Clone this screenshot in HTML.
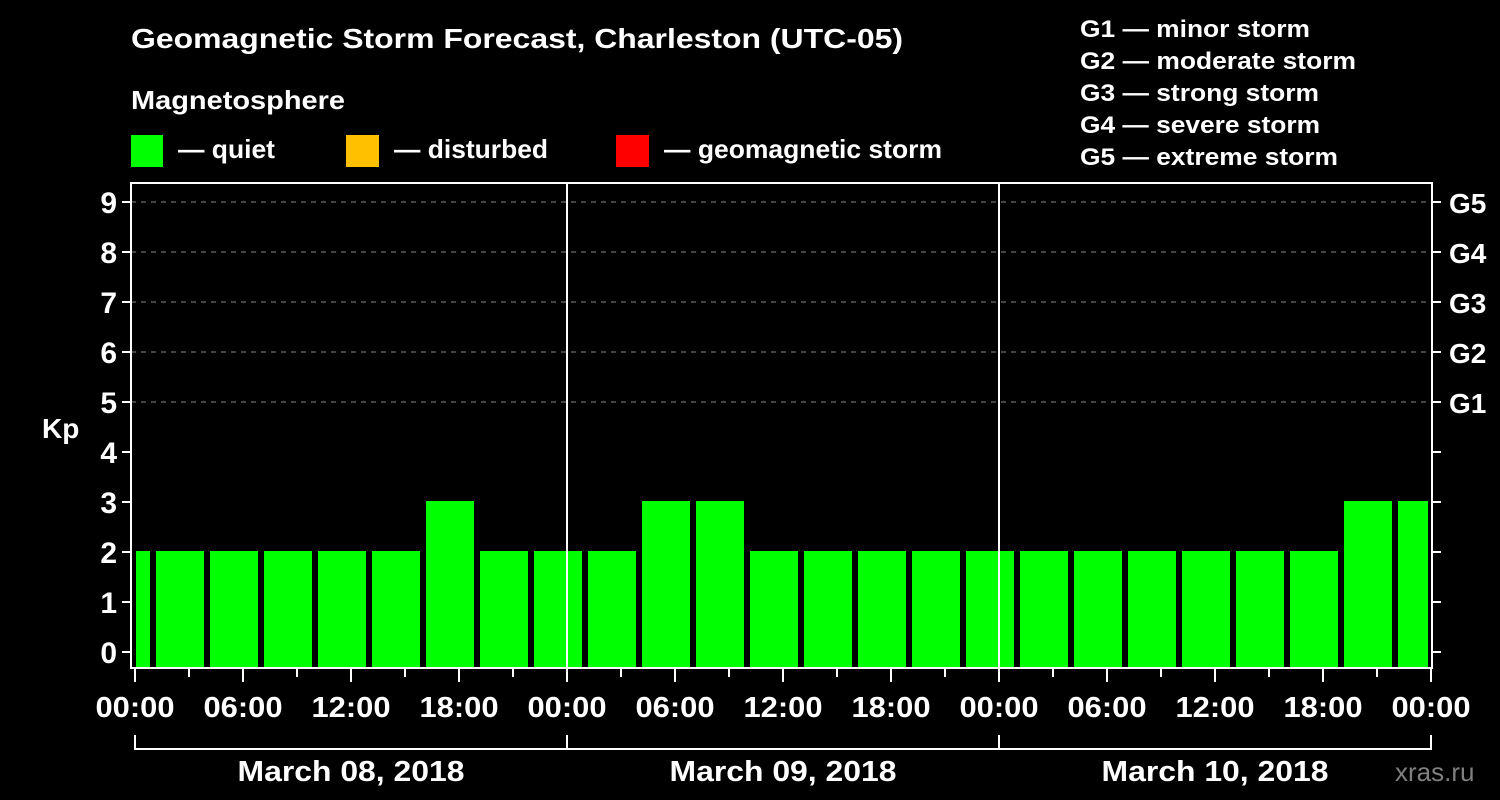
<!DOCTYPE html>
<html><head><meta charset="utf-8"><style>
html,body{margin:0;padding:0;background:#000;}
svg{display:block;font-family:"Liberation Sans",Arial,sans-serif;font-weight:bold;}
</style></head><body>
<svg id="chart" width="1500" height="800" viewBox="0 0 1500 800" xmlns="http://www.w3.org/2000/svg">
<rect width="1500" height="800" fill="#000"/>
<text x="131" y="48" font-size="28" fill="#fff" textLength="772" lengthAdjust="spacingAndGlyphs">Geomagnetic Storm Forecast, Charleston (UTC-05)</text>
<text x="131" y="109" font-size="26" fill="#fff" textLength="214" lengthAdjust="spacingAndGlyphs">Magnetosphere</text>
<g>
<rect x="131" y="135" width="32" height="32" fill="#00ff00"/>
<text x="178" y="158" font-size="26" fill="#fff" textLength="97" lengthAdjust="spacingAndGlyphs">— quiet</text></g>
<g>
<rect x="346" y="135" width="33" height="32" fill="#ffc000"/>
<text x="394" y="158" font-size="26" fill="#fff" textLength="154" lengthAdjust="spacingAndGlyphs">— disturbed</text></g>
<g>
<rect x="616" y="135" width="33" height="32" fill="#ff0000"/>
<text x="664" y="158" font-size="26" fill="#fff" textLength="278" lengthAdjust="spacingAndGlyphs">— geomagnetic storm</text></g>
<g font-size="24" fill="#fff">
<text x="1080" y="37" textLength="230" lengthAdjust="spacingAndGlyphs">G1 — minor storm</text>
<text x="1080" y="69" textLength="276" lengthAdjust="spacingAndGlyphs">G2 — moderate storm</text>
<text x="1080" y="101" textLength="239" lengthAdjust="spacingAndGlyphs">G3 — strong storm</text>
<text x="1080" y="133" textLength="240" lengthAdjust="spacingAndGlyphs">G4 — severe storm</text>
<text x="1080" y="165" textLength="258" lengthAdjust="spacingAndGlyphs">G5 — extreme storm</text>
</g>
<text x="42" y="438" font-size="28" fill="#fff">Kp</text>
<g id="plot"></g>
<text x="1395" y="781" font-size="26" fill="#808080" font-weight="normal">xras.ru</text>
</svg>
<script>
const kpValues = [2,2,2,2,2,2,3,2,2,2,3,3,2,2,2,2,2,2,2,2,2,2,2,3,3];
const yTicks = [0,1,2,3,4,5,6,7,8,9];
const gLabels = ["G1","G2","G3","G4","G5"];
const timeLabels = ["00:00","06:00","12:00","18:00","00:00","06:00","12:00","18:00","00:00","06:00","12:00","18:00","00:00"];
const dateLabels = ["March 08, 2018","March 09, 2018","March 10, 2018"];

const NS="http://www.w3.org/2000/svg";
const plot=document.getElementById('plot');
const X0=135, PXH=18, Y0=652, PXK=50, LEFT=131, RIGHT=1432, TOP=183, BOT=668;
const xs=h=>X0+h*PXH, ys=k=>Y0-k*PXK;
function mk(tag,attrs,parent){const e=document.createElementNS(NS,tag);for(const k in attrs)e.setAttribute(k,attrs[k]);(parent||plot).appendChild(e);return e;}

// grid
for(let k=5;k<=9;k++){
  const g=mk('line',{x1:LEFT,x2:RIGHT,y1:ys(k),y2:ys(k),stroke:'#888','stroke-width':1,'stroke-dasharray':'5,5'});
  
  
}
// bars
kpValues.forEach((v,i)=>{
  let h0=-2+3*i, h1=1+3*i;
  let x0=xs(h0)+3, x1=xs(h1)-3;
  x0=Math.max(x0,LEFT+5); x1=Math.min(x1,RIGHT-4);
  const c=v>=5?'#ff0000':(v>=4?'#ffc000':'#00ff00');
  const r=mk('rect',{x:x0,y:ys(v)-1,width:x1-x0,height:BOT-(ys(v)-1),fill:c});
  
  
});
// day separators
[1,2].forEach(d=>{
  const l=mk('line',{x1:xs(24*d),x2:xs(24*d),y1:TOP,y2:BOT,stroke:'#fff','stroke-width':2});
  
  
});
// frame
const fr=mk('rect',{x:LEFT,y:TOP,width:RIGHT-LEFT,height:BOT-TOP,fill:'none',stroke:'#fff','stroke-width':2});


// y ticks
yTicks.forEach(k=>{
  const t=mk('line',{x1:LEFT-9,x2:LEFT,y1:ys(k),y2:ys(k),stroke:'#fff','stroke-width':2});
  
  
  const t2=mk('line',{x1:RIGHT,x2:RIGHT+9,y1:ys(k),y2:ys(k),stroke:'#fff','stroke-width':2});
  
  
  const tx=mk('text',{x:117,y:ys(k)+11,'text-anchor':'end','font-size':30,fill:'#fff'});
  tx.textContent=k;
  
  
});
gLabels.forEach((g,i)=>{
  const tx=mk('text',{x:1449,y:ys(5+i)+11,'font-size':28,fill:'#fff'});
  tx.textContent=g;
  
  
});
// x ticks
for(let h=0;h<=72;h+=3){
  const major=h%6===0;
  const t=mk('line',{x1:xs(h),x2:xs(h),y1:BOT,y2:major?682:677,stroke:'#fff','stroke-width':2});
  
  
}
timeLabels.forEach((s,i)=>{
  const tx=mk('text',{x:xs(6*i),y:717,'text-anchor':'middle','font-size':29,fill:'#fff',textLength:79,lengthAdjust:'spacingAndGlyphs'});
  tx.textContent=s;
  
  
});
// date bracket
const br=mk('path',{d:`M${xs(0)},735 V749 H${xs(72)} V735 M${xs(24)},735 V749 M${xs(48)},735 V749`,fill:'none',stroke:'#fff','stroke-width':2});


dateLabels.forEach((s,i)=>{
  const tx=mk('text',{x:xs(24*i+12),y:781,'text-anchor':'middle','font-size':29,fill:'#fff',textLength:227,lengthAdjust:'spacingAndGlyphs'});
  tx.textContent=s;
  
  
});
</script>
</body></html>
